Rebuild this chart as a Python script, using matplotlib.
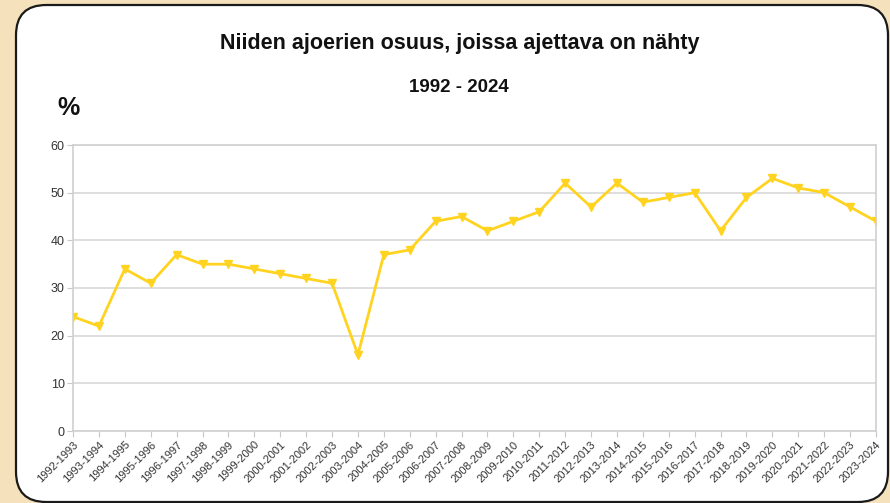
import matplotlib
matplotlib.use("Agg")
import matplotlib.pyplot as plt
from matplotlib.patches import FancyBboxPatch

plt.rcParams['font.family'] = ['Liberation Sans', 'DejaVu Sans']

kaudet = [f"{y}-{y + 1}" for y in range(1992, 2024)]
osuus = [24, 22, 34, 31, 37, 35, 35, 34, 33, 32, 31, 16, 37, 38, 44, 45,
         42, 44, 46, 52, 47, 52, 48, 49, 50, 42, 49, 53, 51, 50, 47, 44]
y_ticks = [0, 10, 20, 30, 40, 50, 60]

fig = plt.figure(figsize=(8.9, 5.03), dpi=100)
fig.patch.set_facecolor('#F5E1BC')

# white rounded panel behind the chart
box = FancyBboxPatch((16 / 890, 1 / 503), 872 / 890, 497 / 503,
                     boxstyle="round,pad=0,rounding_size=0.034",
                     transform=fig.transFigure, facecolor='white',
                     edgecolor='#1a1a1a', linewidth=1.6,
                     mutation_aspect=890 / 503, zorder=-5)
fig.patches.append(box)

ax = fig.add_axes([73 / 890, (503 - 431) / 503, (876 - 73) / 890, (431 - 145) / 503])
ax.set_facecolor('none')
ax.set_zorder(2)

x = list(range(len(kaudet)))
ax.plot(x, osuus, color='#FFD320', linewidth=2, marker='v', markersize=6)

ax.set_xlim(0, len(kaudet) - 1)
ax.set_ylim(0, 60)
ax.set_yticks(y_ticks)
ax.set_yticklabels([str(v) for v in y_ticks], fontsize=9, color='#333333')
ax.set_xticks(x)
ax.set_xticklabels(kaudet, rotation=45, ha='right', rotation_mode='anchor',
                   fontsize=8, color='#333333')
ax.tick_params(axis='both', length=4, color='#c8c8c8', pad=2)
ax.grid(axis='y', color='#d8d8d8', linewidth=1.2)
for s in ax.spines.values():
    s.set_color('#d0d0d0')
    s.set_linewidth(1.2)
ax.set_axisbelow(True)

fig.text(460 / 890, 1 - 43 / 503, "Niiden ajoerien osuus, joissa ajettava on nähty",
         ha='center', va='center', fontsize=15.5, fontweight='bold', color='#111111')
fig.text(459 / 890, 1 - 88 / 503, "1992 - 2024",
         ha='center', va='center', fontsize=13.5, fontweight='bold', color='#111111')
fig.text(68 / 890, 1 - 108 / 503, "%",
         ha='center', va='center', fontsize=18, fontweight='bold', color='#111111')

fig.savefig("out.png", dpi=100)
